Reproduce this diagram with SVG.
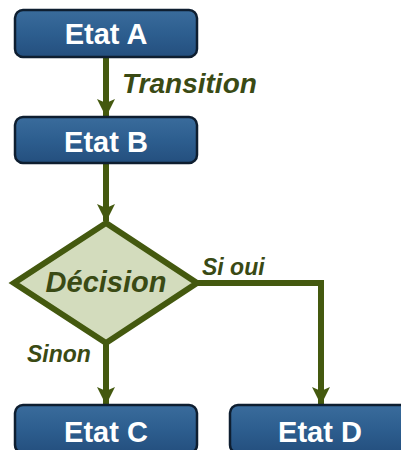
<svg xmlns="http://www.w3.org/2000/svg" width="401" height="450" viewBox="0 0 401 450">
<defs>
<linearGradient id="boxg" x1="0" y1="0" x2="0" y2="1">
<stop offset="0" stop-color="#3a6c9c"/>
<stop offset="0.5" stop-color="#2d5e8f"/>
<stop offset="1" stop-color="#244f7e"/>
</linearGradient>
<marker id="arr" viewBox="0 0 18 18" refX="17" refY="9" markerWidth="18" markerHeight="18" markerUnits="userSpaceOnUse" orient="auto">
<path d="M0,0 L18,9 L0,18 L4,9 Z" fill="#44590f"/>
</marker>
<style>
.box{fill:url(#boxg);stroke:#0e1e30;stroke-width:2.5}
.bt{font-family:"Liberation Sans",Arial,sans-serif;font-weight:bold;font-size:29px;fill:#ffffff;text-anchor:middle}
.lbl{font-family:"Liberation Sans",Arial,sans-serif;font-weight:bold;font-style:italic;fill:#3a4a14}
.con{fill:none;stroke:#44590f;stroke-width:6}
</style>
</defs>
<rect width="401" height="450" fill="#ffffff"/>
<g id="connectors">
<line class="con" x1="106" y1="58" x2="106" y2="116" marker-end="url(#arr)"/>
<line class="con" x1="106" y1="163" x2="106" y2="221" marker-end="url(#arr)"/>
<line class="con" x1="106" y1="343" x2="106" y2="404" marker-end="url(#arr)"/>
<polyline class="con" points="197,283 321,283 321,404" marker-end="url(#arr)"/>
<text class="lbl" x="122" y="93" font-size="28">Transition</text>
<text class="lbl" x="202" y="275" font-size="23">Si oui</text>
<text class="lbl" x="27" y="362" font-size="23">Sinon</text>
</g>
<g id="etatA">
<rect class="box" x="15" y="10" width="182" height="47" rx="8"/>
<text class="bt" x="106" y="44">Etat A</text>
</g>
<g id="etatB">
<rect class="box" x="15" y="117" width="182" height="46" rx="8"/>
<text class="bt" x="106" y="152">Etat B</text>
</g>
<g id="decision">
<polygon points="106,223 197,283 106,343 14,283" fill="#d3dcbd" stroke="#44590f" stroke-width="6" stroke-linejoin="miter"/>
<text class="lbl" x="106" y="292" font-size="29" text-anchor="middle">Décision</text>
</g>
<g id="etatC">
<rect class="box" x="15" y="405" width="182" height="48" rx="8"/>
<text class="bt" x="106" y="442">Etat C</text>
</g>
<g id="etatD">
<rect class="box" x="230" y="405" width="180" height="48" rx="8"/>
<text class="bt" x="320" y="442">Etat D</text>
</g>
</svg>
